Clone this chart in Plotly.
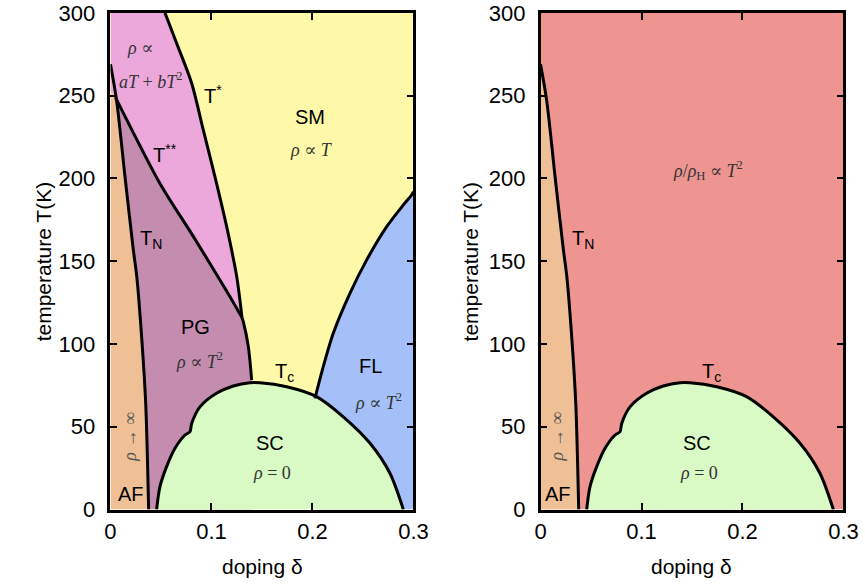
import plotly.graph_objects as go

# ---------------- data (doping delta, temperature K) ----------------
# Neel line T_N
TN_X = [0.0, 0.0061, 0.0144, 0.0226, 0.026, 0.0309, 0.0349, 0.0378]
TN_Y = [269, 247, 201, 157, 141, 104, 64, 0]
# T** line
TSS_X = [0.005, 0.049, 0.082, 0.115, 0.1302]
TSS_Y = [249, 197, 165, 132, 116]
# T* line (upper part, down to the T** junction)
TS_X = [0.054, 0.0655, 0.0804, 0.0919, 0.1035, 0.115, 0.125, 0.1302]
TS_Y = [300, 281.7, 257.5, 229.3, 201, 171, 140.7, 116]
# T* line below the junction, to the dome
TSL_X = [0.1302, 0.1315, 0.1365, 0.1398]
TSL_Y = [116, 113.5, 98.4, 78.2]
# Fermi-liquid crossover
FL_X = [0.2025, 0.2107, 0.2206, 0.2371, 0.2537, 0.2735, 0.29, 0.2982, 0.3]
FL_Y = [67.2, 86.3, 106.5, 130.6, 150.8, 170.9, 184, 190, 192]
# superconducting dome T_c
SC_X = [0.0457, 0.049, 0.0556, 0.0639, 0.0738, 0.0787, 0.0804, 0.0886, 0.105,
        0.1216, 0.138, 0.148, 0.1745, 0.204, 0.2305, 0.257, 0.2767, 0.29]
SC_Y = [0, 13.8, 25.9, 37, 45, 47, 52, 62, 70.2,
        74.6, 76.6, 76.6, 74.2, 68.2, 56, 40, 21.9, 0]
# pink region meets the left axis here
PINK_AXIS_Y = 253

X_RANGE = [0, 0.3]
Y_RANGE = [0, 300]
X_TICKS = [0, 0.1, 0.2, 0.3]
X_TICKTEXT = ["0", "0.1", "0.2", "0.3"]
Y_TICKS = [0, 50, 100, 150, 200, 250, 300]

# colours
C_AF = "#EFC095"
C_PINK = "#ECA8DB"
C_PG = "#C48CAE"
C_SM = "#FDF9A9"
C_FL = "#A5C0F9"
C_SC = "#D9F9C5"
C_RED = "#EE9592"

SANS = "Liberation Sans, Arial, sans-serif"
SERIF = "Liberation Serif, DejaVu Serif, serif"

fig = go.Figure()


def poly(xs, ys, color, ax):
    fig.add_trace(go.Scatter(x=xs, y=ys, fill="toself", fillcolor=color, mode="lines",
                             line=dict(width=0, color=color), hoverinfo="skip",
                             showlegend=False, xaxis=ax[0], yaxis=ax[1]))


def curve(xs, ys, ax, shape="spline"):
    fig.add_trace(go.Scatter(x=xs, y=ys, mode="lines",
                             line=dict(width=3, color="black", shape=shape, smoothing=0.8),
                             hoverinfo="skip", showlegend=False, xaxis=ax[0], yaxis=ax[1]))


L = ("x", "y")
R = ("x2", "y2")
xmin, xmax = X_RANGE
ymin, ymax = Y_RANGE

# ---------------- left panel ----------------
poly([xmin, xmax, xmax, xmin], [ymin, ymin, ymax, ymax], C_SM, L)
poly(FL_X + [xmax, FL_X[0]], FL_Y + [ymin, ymin], C_FL, L)
poly([xmin] + TN_X, [ymin] + TN_Y, C_AF, L)
poly(TSS_X + TSL_X[1:] + [TSL_X[-1]] + TN_X[::-1][:-1],
     TSS_Y + TSL_Y[1:] + [ymin] + TN_Y[::-1][:-1], C_PG, L)
poly([xmin] + TS_X + TSS_X[::-1] + [xmin],
     [ymax] + TS_Y + TSS_Y[::-1] + [PINK_AXIS_Y], C_PINK, L)
poly(SC_X, SC_Y, C_SC, L)

curve(TN_X, TN_Y, L)
curve(TSS_X, TSS_Y, L)
curve(TS_X, TS_Y, L)
curve(TSL_X, TSL_Y, L)
curve(FL_X, FL_Y, L)
curve(SC_X, SC_Y, L)

# ---------------- right panel ----------------
poly([xmin, xmax, xmax, xmin], [ymin, ymin, ymax, ymax], C_RED, R)
poly([xmin] + TN_X, [ymin] + TN_Y, C_AF, R)
poly(SC_X, SC_Y, C_SC, R)
curve(TN_X, TN_Y, R)
curve(SC_X, SC_Y, R)

# ---------------- labels ----------------
LABELS_L = [
    ("T<sup>*</sup>", 0.1015, 250.5, SANS, 20, "black"),
    ("SM", 0.198, 237, SANS, 20, "black"),
    ("T<sup>**</sup>", 0.054, 215, SANS, 20, "black"),
    ("T<sub>N</sub>", 0.040, 163, SANS, 20, "black"),
    ("PG", 0.0837, 110, SANS, 20, "black"),
    ("T<sub>c</sub>", 0.172, 82.5, SANS, 20, "black"),
    ("FL", 0.257, 86.7, SANS, 20, "black"),
    ("SC", 0.158, 40, SANS, 20, "black"),
    ("AF", 0.0203, 9.4, SANS, 20, "black"),
    ("<i>ρ</i> ∝", 0.0292, 279, SERIF, 18, "#333"),
    ("<i>aT</i> + <i>bT</i><sup>2</sup>", 0.040, 259, SERIF, 18, "#333"),
    ("<i>ρ</i> ∝ <i>T</i>", 0.1995, 217, SERIF, 18, "#333"),
    ("<i>ρ</i> ∝ <i>T</i><sup>2</sup>", 0.0886, 90, SERIF, 18, "#333"),
    ("<i>ρ</i> ∝ <i>T</i><sup>2</sup>", 0.265, 65, SERIF, 18, "#333"),
    ("<i>ρ</i> = 0", 0.16, 22, SERIF, 18, "#333"),
]
LABELS_R = [
    ("<i>ρ</i>/<i>ρ</i><sub>H</sub> ∝ <i>T</i><sup>2</sup>", 0.1658, 204.5, SERIF, 18, "#333"),
    ("T<sub>N</sub>", 0.042, 163, SANS, 20, "black"),
    ("T<sub>c</sub>", 0.1698, 82.5, SANS, 20, "black"),
    ("SC", 0.155, 40, SANS, 20, "black"),
    ("AF", 0.017, 9.4, SANS, 20, "black"),
    ("<i>ρ</i> = 0", 0.157, 22, SERIF, 18, "#333"),
]
ROT_LABEL = "<i>ρ</i> → ∞"
ROT_POS_L = (0.0193, 44)
ROT_POS_R = (0.016, 44)

annotations = []
for labels, xr, yr in ((LABELS_L, "x", "y"), (LABELS_R, "x2", "y2")):
    for txt, x, y, fam, size, col in labels:
        annotations.append(dict(text=txt, x=x, y=y, xref=xr, yref=yr, showarrow=False,
                                font=dict(family=fam, size=size, color=col)))
for (x, y), xr, yr in ((ROT_POS_L, "x", "y"), (ROT_POS_R, "x2", "y2")):
    annotations.append(dict(text=ROT_LABEL, x=x, y=y, xref=xr, yref=yr, showarrow=False,
                            textangle=-90, font=dict(family=SERIF, size=18, color="#555")))

# axis titles
for xp, xc in ((0.0497, 0.303), (0.5434, 0.799)):
    annotations.append(dict(text="temperature T(K)", x=xp, y=0.554, xref="paper", yref="paper",
                            xanchor="center", yanchor="middle",
                            showarrow=False, textangle=-90,
                            font=dict(family=SANS, size=21, color="black")))
    annotations.append(dict(text="doping δ", x=xc, y=0.034, xref="paper", yref="paper",
                            xanchor="center", yanchor="middle",
                            showarrow=False, font=dict(family=SANS, size=21, color="black")))

axis_common = dict(showline=True, linewidth=2.5, linecolor="black", mirror="allticks",
                   ticks="inside", ticklen=7, tickwidth=1.5, tickcolor="black",
                   showgrid=False, zeroline=False, automargin=False,
                   tickfont=dict(family=SANS, size=22, color="black"))

xdef = dict(range=X_RANGE, tickvals=X_TICKS, ticktext=X_TICKTEXT, **axis_common)
ydef = dict(range=Y_RANGE, tickvals=Y_TICKS, ticklabelstandoff=8, **axis_common)

fig.update_layout(
    width=865, height=586,
    margin=dict(l=0, r=0, t=0, b=0),
    paper_bgcolor="white", plot_bgcolor="white",
    showlegend=False,
    xaxis=dict(domain=[0.1277, 0.478], anchor="y", **xdef),
    yaxis=dict(domain=[0.1305, 0.978], anchor="x", **ydef),
    xaxis2=dict(domain=[0.6249, 0.9751], anchor="y2", **xdef),
    yaxis2=dict(domain=[0.1305, 0.978], anchor="x2", **ydef),
    annotations=annotations,
)

fig.write_html("out.html", config={"displayModeBar": False},
               post_script="document.body.style.margin='0px';")
